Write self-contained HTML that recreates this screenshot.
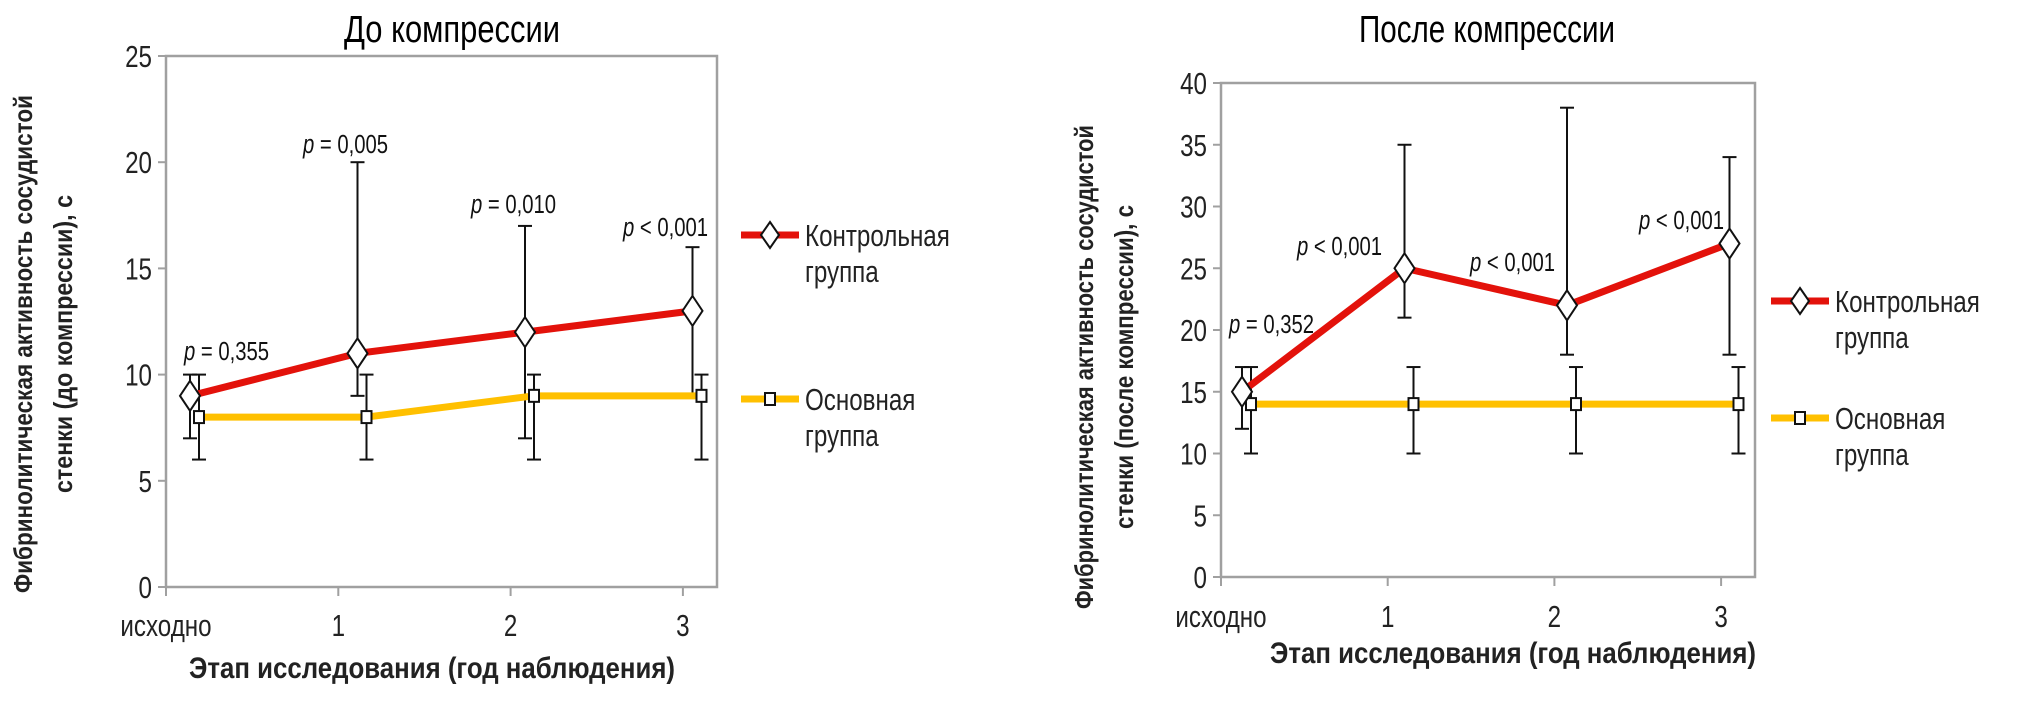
<!DOCTYPE html>
<html><head><meta charset="utf-8"><style>
html,body{margin:0;padding:0;background:#fff;}
svg{display:block;font-family:"Liberation Sans","DejaVu Sans",sans-serif;}
</style></head><body>
<svg id="svg" width="2019" height="701" viewBox="0 0 2019 701" xmlns="http://www.w3.org/2000/svg"></svg>
<script>
const categories = ["исходно","1","2","3"];
const c1Control = [9,11,12,13];
const c1ControlLow = [7,9,7,9];
const c1ControlHigh = [10,20,17,16];
const c1Main = [8,8,9,9];
const c1MainLow = [6,6,6,6];
const c1MainHigh = [10,10,10,10];
const c1Ticks = [0,5,10,15,20,25];
const c1P = ["p = 0,355","p = 0,005","p = 0,010","p < 0,001"];

const c2Control = [15,25,22,27];
const c2ControlLow = [12,21,18,18];
const c2ControlHigh = [17,35,38,34];
const c2Main = [14,14,14,14];
const c2MainLow = [10,10,10,10];
const c2MainHigh = [17,17,17,17];
const c2Ticks = [0,5,10,15,20,25,30,35,40];
const c2P = ["p = 0,352","p < 0,001","p < 0,001","p < 0,001"];

const svg = document.getElementById('svg');
const NS = "http://www.w3.org/2000/svg";
function el(tag, attrs, parent){
  const e = document.createElementNS(NS, tag);
  for (const k in attrs) e.setAttribute(k, attrs[k]);
  (parent||svg).appendChild(e);
  return e;
}
// condensed text: placed at (x,y), scaled horizontally
function ctxt(str, x, y, size, anchor, parent, extra){
  const a = Object.assign({transform:`translate(${x},${y}) scale(0.78,1)`, x:0, y:0, 'font-size':size, 'text-anchor':anchor||'start', fill:'#222'}, extra||{});
  const t = el('text', a, parent);
  t.textContent = str;
  return t;
}

function drawChart(cfg){
  const g = el('g', {});
  
  
  const L=cfg.left, R=cfg.right, T=cfg.top, B=cfg.bottom, maxV=cfg.max;
  const y = v => B - (B - T) * v / maxV;
  const tickX = i => L + (cfg.tickStep) * i;
  const px = (i, off) => cfg.pointStart + cfg.pointStep * i + off;

  const frame = el('rect', {x:L, y:T, width:R-L, height:B-T, fill:'none', stroke:'#a0a0a0', 'stroke-width':2.5}, g);
  
  

  cfg.ticks.forEach(v => {
    const tk = el('line', {x1:L-8, x2:L, y1:y(v), y2:y(v), stroke:'#a0a0a0', 'stroke-width':2}, g);
    
    
    const lb = ctxt(String(v), L-14, y(v)+11, 31, 'end', g);
    
    
  });
  categories.forEach((c, i) => {
    const tk = el('line', {x1:tickX(i), x2:tickX(i), y1:B, y2:B+9, stroke:'#a0a0a0', 'stroke-width':2}, g);
    
    
    const lb = ctxt(c, tickX(i), cfg.xLabelY, 31, 'middle', g);
    
    
  });

  function errBars(lo, hi, off, nm){
    lo.forEach((l, i) => {
      const x = px(i, off);
      const e = el('g', {stroke:'#111', 'stroke-width':2}, g);
      
      
      el('line', {x1:x, x2:x, y1:y(l), y2:y(hi[i])}, e);
      el('line', {x1:x-7, x2:x+7, y1:y(l), y2:y(l)}, e);
      el('line', {x1:x-7, x2:x+7, y1:y(hi[i]), y2:y(hi[i])}, e);
    });
  }
  errBars(cfg.controlLow, cfg.controlHigh, 0, 'control-error-bar');
  errBars(cfg.mainLow, cfg.mainHigh, cfg.mainOff, 'main-error-bar');

  const mainLine = el('polyline', {points: cfg.main.map((v,i)=>px(i,cfg.mainOff)+','+y(v)).join(' '), fill:'none', stroke:'#ffc000', 'stroke-width':7, 'stroke-linejoin':'round'}, g);
  
  
  const ctrlLine = el('polyline', {points: cfg.control.map((v,i)=>px(i,0)+','+y(v)).join(' '), fill:'none', stroke:'#e3120b', 'stroke-width':7, 'stroke-linejoin':'round'}, g);
  
  

  cfg.main.forEach((v,i) => {
    const x = px(i, cfg.mainOff);
    const m = el('rect', {x:x-5, y:y(v)-6, width:10, height:12, fill:'#fff', stroke:'#111', 'stroke-width':2}, g);
    
    
  });
  cfg.control.forEach((v,i) => {
    const x = px(i, 0), yy = y(v);
    const m = el('polygon', {points:`${x},${yy-15} ${x+10},${yy} ${x},${yy+15} ${x-10},${yy}`, fill:'#fff', stroke:'#111', 'stroke-width':2}, g);
    
    
  });

  cfg.pLabels.forEach((p, i) => {
    const t = ctxt('', cfg.pPos[i][0], cfg.pPos[i][1]+2, 26, 'start', g, {fill:'#111'});
    
    
    const a = document.createElementNS(NS,'tspan'); a.setAttribute('font-style','italic'); a.textContent='p'; t.appendChild(a);
    const b = document.createElementNS(NS,'tspan'); b.textContent = p.slice(1); t.appendChild(b);
  });

  const title = el('text', {x:cfg.titleX, y:42, 'text-anchor':'middle', 'font-size':38, fill:'#000', textLength:cfg.titleW, lengthAdjust:'spacingAndGlyphs'}, g);
  title.textContent = cfg.title;
  
  

  const xt = el('text', {x:cfg.xTitleX, y:cfg.xTitleY, 'text-anchor':'middle', 'font-size':30, 'font-weight':'bold', fill:'#222', textLength:486, lengthAdjust:'spacingAndGlyphs'}, g);
  xt.textContent = 'Этап исследования (год наблюдения)';
  
  

  const yt = el('g', {transform:`translate(${cfg.yTitleX},${cfg.yTitleY}) rotate(-90)`}, g);
  
  
  const y1 = el('text', {x:0, y:0, 'text-anchor':'middle', 'font-size':26, 'font-weight':'bold', fill:'#222', textLength:cfg.yLen1, lengthAdjust:'spacingAndGlyphs'}, yt);
  y1.textContent = 'Фибринолитическая активность сосудистой';
  const y2 = el('text', {x:0, y:40, 'text-anchor':'middle', 'font-size':26, 'font-weight':'bold', fill:'#222', textLength:cfg.yLen2, lengthAdjust:'spacingAndGlyphs'}, yt);
  y2.textContent = cfg.yLine2;

  const lg = el('g', {}, g);
  
  
  const lx = cfg.legX;
  const e1 = el('g', {}, lg);
  
  
  el('line', {x1:lx, x2:lx+58, y1:cfg.legY1, y2:cfg.legY1, stroke:'#e3120b', 'stroke-width':7}, e1);
  el('polygon', {points:`${lx+29},${cfg.legY1-13} ${lx+38},${cfg.legY1} ${lx+29},${cfg.legY1+13} ${lx+20},${cfg.legY1}`, fill:'#fff', stroke:'#111', 'stroke-width':2}, e1);
  ctxt('Контрольная', lx+64, cfg.legY1+11, 31, 'start', e1);
  ctxt('группа', lx+64, cfg.legY1+47, 31, 'start', e1);
  const e2 = el('g', {}, lg);
  
  
  el('line', {x1:lx, x2:lx+58, y1:cfg.legY2, y2:cfg.legY2, stroke:'#ffc000', 'stroke-width':7}, e2);
  el('rect', {x:lx+24, y:cfg.legY2-6, width:10, height:12, fill:'#fff', stroke:'#111', 'stroke-width':2}, e2);
  ctxt('Основная', lx+64, cfg.legY2+11, 31, 'start', e2);
  ctxt('группа', lx+64, cfg.legY2+47, 31, 'start', e2);
}

drawChart({
  name:'chart-before-compression', left:166, right:717, top:56, bottom:587, max:25,
  tickStep:172.3, pointStart:190, pointStep:167.5, mainOff:9, xLabelY:636,
  ticks:c1Ticks, control:c1Control, controlLow:c1ControlLow, controlHigh:c1ControlHigh,
  main:c1Main, mainLow:c1MainLow, mainHigh:c1MainHigh, pLabels:c1P,
  pPos:[[184,358],[303,151],[471,211],[623,234]],
  title:'До компрессии', titleX:452, titleW:216,
  xTitleX:432, xTitleY:678, yTitleX:32, yTitleY:344, yLen1:498, yLen2:298,
  yLine2:'стенки (до компрессии), с',
  legX:741, legY1:235, legY2:399
});
drawChart({
  name:'chart-after-compression', left:1221, right:1755, top:83, bottom:577, max:40,
  tickStep:166.7, pointStart:1242, pointStep:162.5, mainOff:9, xLabelY:627,
  ticks:c2Ticks, control:c2Control, controlLow:c2ControlLow, controlHigh:c2ControlHigh,
  main:c2Main, mainLow:c2MainLow, mainHigh:c2MainHigh, pLabels:c2P,
  pPos:[[1229,331],[1297,253],[1470,269],[1639,227]],
  title:'После компрессии', titleX:1487, titleW:256,
  xTitleX:1513, xTitleY:663, yTitleX:1093, yTitleY:367, yLen1:484, yLen2:324,
  yLine2:'стенки (после компрессии), с',
  legX:1771, legY1:301, legY2:418
});
</script>
</body></html>
